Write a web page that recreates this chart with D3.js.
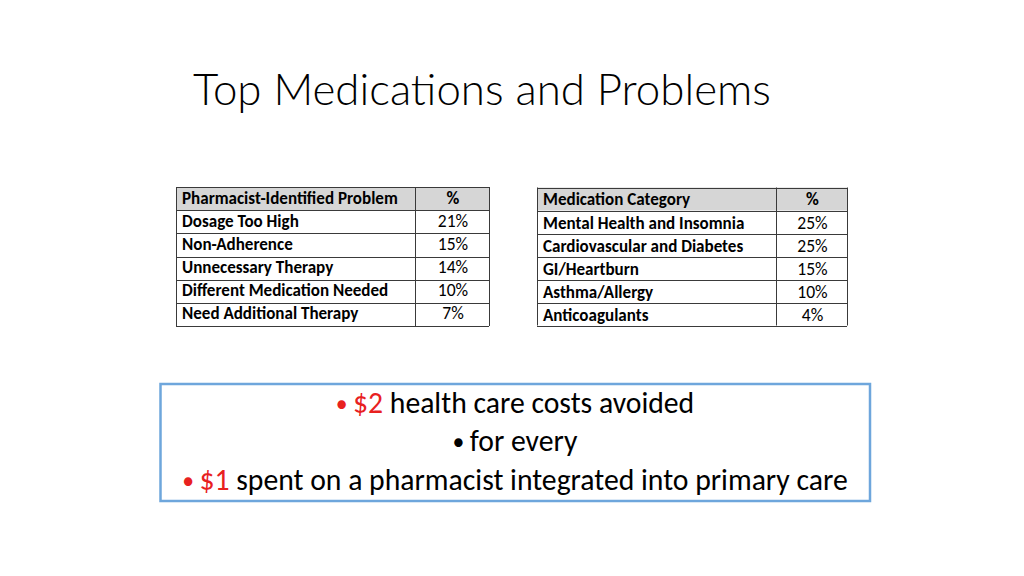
<!DOCTYPE html>
<html>
<head>
<meta charset="utf-8">
<script src="https://cdn.jsdelivr.net/npm/d3@7"></script>
<style>
  html, body { margin: 0; padding: 0; background: #fff; }
  svg { display: block; }
</style>
</head>
<body>
<div id="slide"></div>
<script>
// Slide data
var title = "Top Medications and Problems";

var problemHeader = ["Pharmacist-Identified Problem", "%"];
var problems = ["Dosage Too High", "Non-Adherence", "Unnecessary Therapy", "Different Medication Needed", "Need Additional Therapy"];
var problemPct = [21, 15, 14, 10, 7];

var categoryHeader = ["Medication Category", "%"];
var categories = ["Mental Health and Insomnia", "Cardiovascular and Diabetes", "GI/Heartburn", "Asthma/Allergy", "Anticoagulants"];
var categoryPct = [25, 25, 15, 10, 4];

var boxRed = ["$2", "", "$1"];
var boxText = ["health care costs avoided", "for every", "spent on a pharmacist integrated into primary care"];

var W = 1024, H = 576;
var FONT = "Carlito, Lato, 'Open Sans', sans-serif";
var TITLE_FONT = "Lato, 'Open Sans', sans-serif";

var svg = d3.select("#slide").append("svg")
    .attr("width", W)
    .attr("height", H);

// fit a font size so a string spans a given width
function fitSize(str, family, weight, target, base) {
  var t = svg.append("text")
      .style("font-family", family)
      .style("font-weight", weight)
      .style("font-size", base + "px")
      .text(str);
  var w = t.node().getComputedTextLength();
  t.remove();
  return base * target / w;
}

// Title
var titleSize = fitSize(title, TITLE_FONT, 300, 578, 40);
svg.append("text")
    .attr("x", 193)
    .attr("y", 105)
    .style("font-family", TITLE_FONT)
    .style("font-weight", 300)
    .style("font-size", titleSize + "px")
    .attr("fill", "#000")
    .text(title);

// Tables
var cellSize = fitSize(problemHeader[0], FONT, 700, 216, 14);

function drawTable(opt) {
  var g = svg.append("g");
  var rows = d3.range(opt.labels.length + 1);
  var y = d3.scaleBand().domain(rows).range([opt.top, opt.bottom]);

  g.append("rect")
      .attr("x", opt.left)
      .attr("y", y(0))
      .attr("width", opt.right - opt.left)
      .attr("height", y.bandwidth())
      .attr("fill", "#d6d6d6");

  // horizontal rules
  g.selectAll("line.h")
      .data(rows.concat([rows.length]))
    .enter().append("line")
      .attr("class", "h")
      .attr("x1", opt.left).attr("x2", opt.right)
      .attr("y1", function(d) { return Math.round(opt.top + d * y.step()) + 0.5; })
      .attr("y2", function(d) { return Math.round(opt.top + d * y.step()) + 0.5; })
      .attr("stroke", "#3a3a3a")
      .attr("stroke-width", 1);

  // vertical rules
  g.selectAll("line.v")
      .data([opt.left, opt.mid, opt.right])
    .enter().append("line")
      .attr("class", "v")
      .attr("x1", function(d) { return d + 0.5; })
      .attr("x2", function(d) { return d + 0.5; })
      .attr("y1", opt.top).attr("y2", opt.bottom)
      .attr("stroke", "#3a3a3a")
      .attr("stroke-width", 1);

  var cells = [{r: 0, name: opt.header[0], val: opt.header[1]}];
  opt.labels.forEach(function(d, i) {
    cells.push({r: i + 1, name: d, val: opt.values[i] + "%"});
  });

  g.selectAll("text.name")
      .data(cells)
    .enter().append("text")
      .attr("class", "name")
      .attr("x", opt.left + 6)
      .attr("y", function(d) { return y(d.r) + (d.r === 0 ? 17 : opt.dy); })
      .style("font-family", FONT)
      .style("font-weight", 700)
      .style("font-size", cellSize + "px")
      .attr("fill", "#000")
      .text(function(d) { return d.name; });

  g.selectAll("text.val")
      .data(cells)
    .enter().append("text")
      .attr("class", "val")
      .attr("x", (opt.mid + opt.right) / 2 + 1)
      .attr("y", function(d) { return y(d.r) + (d.r === 0 ? 17 : opt.dy); })
      .attr("text-anchor", "middle")
      .style("font-family", FONT)
      .style("font-weight", function(d) { return d.r === 0 ? 700 : 400; })
      .style("font-size", (cellSize + 0.5) + "px")
      .attr("fill", "#000")
      .text(function(d) { return d.val; });
}

drawTable({
  left: 176, mid: 415, right: 489, top: 187, bottom: 326,
  header: problemHeader, labels: problems, values: problemPct, dy: 16.5
});

drawTable({
  left: 537, mid: 776, right: 847, top: 187.5, bottom: 325.5,
  header: categoryHeader, labels: categories, values: categoryPct, dy: 18.5
});

// Callout box
svg.append("rect")
    .attr("x", 160.5)
    .attr("y", 384)
    .attr("width", 709.5)
    .attr("height", 117)
    .attr("fill", "none")
    .attr("stroke", "#6ea6dc")
    .attr("stroke-width", 2.5);

var boxSize = fitSize("\u2022 $1 spent on a pharmacist integrated into primary care", FONT, 400, 670, 28);
var baselines = [413, 451, 490];

boxText.forEach(function(d, i) {
  var t = svg.append("text")
      .attr("x", 515)
      .attr("y", baselines[i])
      .attr("text-anchor", "middle")
      .style("font-family", FONT)
      .style("font-size", boxSize + "px")
      .attr("fill", "#000");
  var red = boxRed[i] ? "#e8211f" : "#000";
  t.append("tspan")
      .attr("fill", red)
      .style("font-size", (boxSize * 0.8) + "px")
      .attr("dy", -1)
      .text("\u2022 ");
  if (boxRed[i]) {
    t.append("tspan").attr("fill", red).attr("dy", 1).text(boxRed[i] + " ");
    t.append("tspan").text(d);
  } else {
    t.append("tspan").attr("dy", 1).text(d);
  }
});
</script>
</body>
</html>
